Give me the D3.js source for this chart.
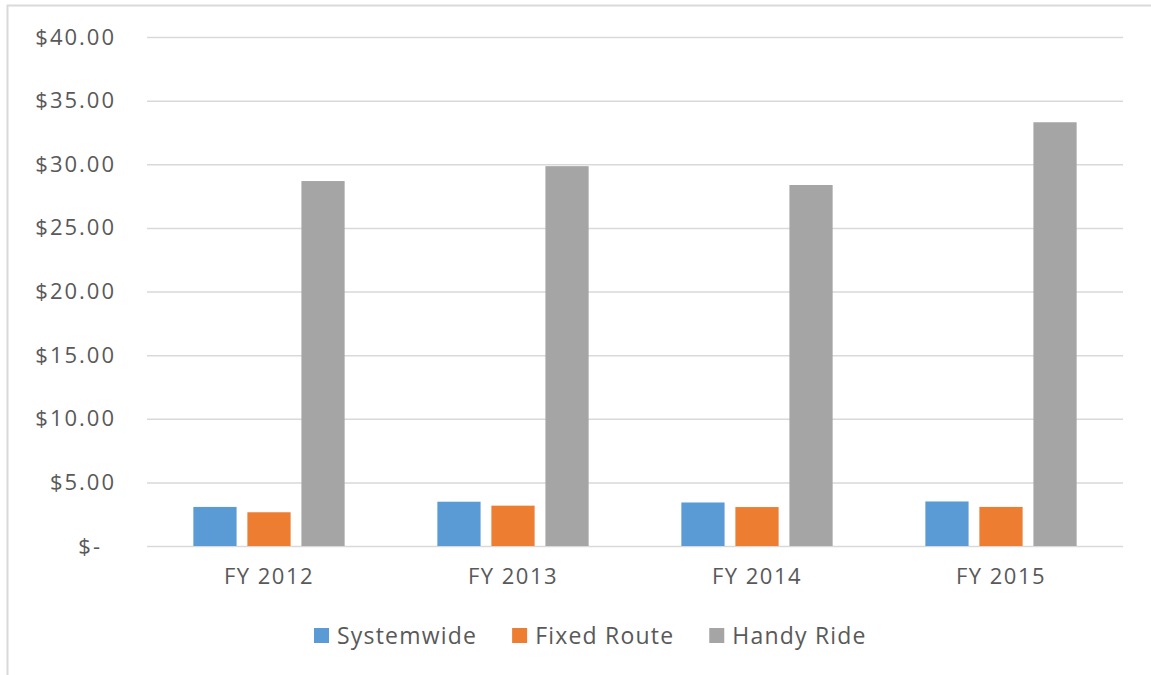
<!DOCTYPE html>
<html>
<head>
<meta charset="utf-8">
<script src="https://cdn.jsdelivr.net/npm/d3@7"></script>
<style>
  body { margin: 0; background: #fff; }
  svg { display: block; }
  text { font-family: "Open Sans", sans-serif; fill: #595959; }
</style>
</head>
<body>
<svg id="chart"></svg>
<script>
// data //
var years = ["FY 2012", "FY 2013", "FY 2014", "FY 2015"];
var series = ["Systemwide", "Fixed Route", "Handy Ride"];
var systemwide = [3.07, 3.48, 3.42, 3.50];
var fixedRoute = [2.65, 3.17, 3.06, 3.07];
var handyRide = [28.68, 29.85, 28.37, 33.30];
var yTicks = [0, 5, 10, 15, 20, 25, 30, 35, 40];
var colors = ["#5B9BD5", "#ED7D31", "#A5A5A5"];

var values = [systemwide, fixedRoute, handyRide];

var screen = {width: 1151, height: 675};
var plot = {left: 147, right: 1123, top: 37, bottom: 546};

var svg = d3.select("#chart")
            .attr("width", screen.width)
            .attr("height", screen.height);

// chart frame (cut by the picture edge) //
svg.append("rect")
   .attr("x", 7.5)
   .attr("y", 5.5)
   .attr("width", 1300)
   .attr("height", 800)
   .attr("fill", "none")
   .attr("stroke", "#d9d9d9")
   .attr("stroke-width", 2);

var y = d3.scaleLinear()
          .domain([0, 40])
          .range([plot.bottom, plot.top]);

var x0 = d3.scaleBand()
           .domain(years)
           .range([plot.left, plot.right]);

var bw = x0.bandwidth();
var x1 = d3.scaleBand()
           .domain(series)
           .range([bw * 0.19, bw * 0.81])
           .paddingInner(0.2);

// gridlines + y labels //
var yAxis = d3.axisLeft(y)
              .tickValues(yTicks)
              .tickSize(-(plot.right - plot.left))
              .tickPadding(31)
              .tickFormat(function(d)
                          {
                            return d === 0 ? "$-" : "$" + d3.format(".2f")(d);
                          });

var gy = svg.append("g")
            .attr("transform", "translate(" + plot.left + ",0)")
            .call(yAxis);
gy.select(".domain").remove();
gy.selectAll(".tick line")
  .attr("stroke", "#d9d9d9")
  .attr("stroke-width", 1.5);
gy.selectAll(".tick text")
  .style("font-size", "22px")
  .style("letter-spacing", "2px")
  .style("fill", "#595959")
  .attr("dx", function(d) { return d === 0 ? -14 : 0; });

// bars //
var groups = svg.append("g")
                .selectAll("g")
                .data(years)
                .enter()
                .append("g")
                .attr("transform", function(d) { return "translate(" + x0(d) + ",0)"; });

groups.selectAll("rect")
      .data(function(d, i)
            {
              return series.map(function(s, j) { return {s: s, v: values[j][i], c: colors[j]}; });
            })
      .enter()
      .append("rect")
      .attr("x", function(d) { return x1(d.s); })
      .attr("y", function(d) { return y(d.v); })
      .attr("width", x1.bandwidth())
      .attr("height", function(d) { return y(0) - y(d.v); })
      .attr("fill", function(d) { return d.c; });

// x labels //
var xAxis = d3.axisBottom(x0).tickSize(0).tickPadding(22);
var gx = svg.append("g")
            .attr("transform", "translate(0," + plot.bottom + ")")
            .call(xAxis);
gx.select(".domain").remove();
gx.selectAll(".tick text")
  .style("font-size", "22px")
  .style("letter-spacing", "1.5px")
  .style("fill", "#595959");

// legend //
var legend = svg.append("g").attr("transform", "translate(314,628)");
var lx = 0;
series.forEach(function(s, i)
               {
                 legend.append("rect")
                       .attr("x", lx)
                       .attr("y", 0)
                       .attr("width", 15)
                       .attr("height", 15)
                       .attr("fill", colors[i]);
                 var t = legend.append("text")
                               .attr("x", lx + 23)
                               .attr("y", 16)
                               .style("font-size", "23px")
                               .style("letter-spacing", "1.2px")
                               .text(s);
                 lx = lx + 23 + t.node().getComputedTextLength() + 35;
               });
</script>
</body>
</html>
